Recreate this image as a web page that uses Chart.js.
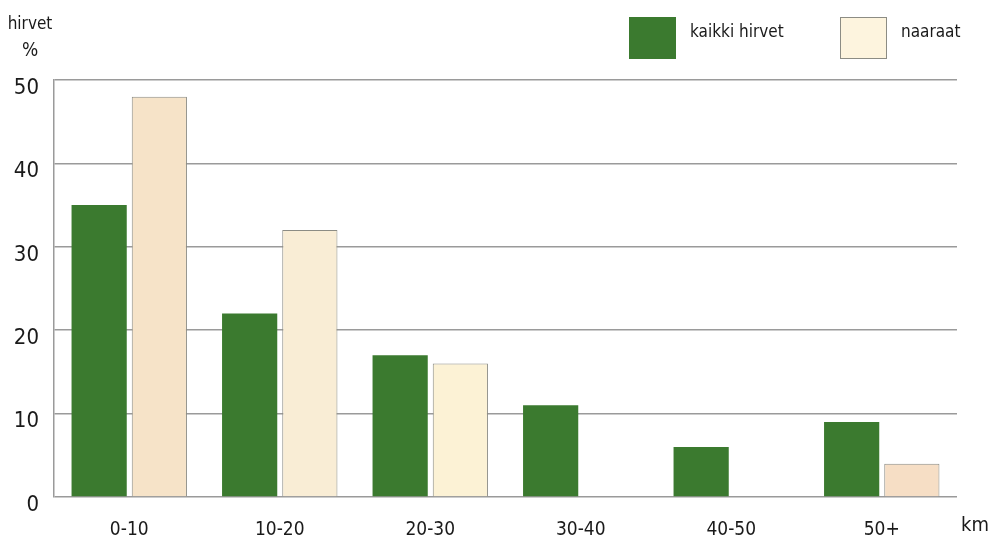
<!DOCTYPE html>
<html>
<head>
<meta charset="utf-8">
<script src="https://cdn.jsdelivr.net/npm/chart.js@4.4.0/dist/chart.umd.min.js"></script>
<style>
  html, body { margin: 0; padding: 0; background: #fff; }
  #wrap { width: 988px; height: 536px; }
</style>
</head>
<body>
<div id="wrap"><canvas id="hirvi-chart" width="988" height="536"></canvas></div>
<script>
var categories = ["0-10", "10-20", "20-30", "30-40", "40-50", "50+"];
var kaikkiHirvet = [35, 22, 17, 11, 6, 9];
var naaraat = [48, 32, 16, 0, 0, 4];
var yTicks = [0, 10, 20, 30, 40, 50];

var FONT = "'DejaVu Sans Condensed', 'Liberation Sans Narrow', sans-serif";
var GREEN = "#3b7a2f";
var CREAM = ["#f6e3c8", "#f9edd5", "#fcf2d5", "#fcf2d5", "#fcf2d5", "#f6dec5"];

// legend + axis captions drawn by hand
var extras = {
  id: "extras",
  afterDraw: function (chart) {
    var c = chart.ctx;
    c.save();
    c.fillStyle = "#1a1a1a";
    c.font = "17px " + FONT;
    c.textAlign = "center";
    c.textBaseline = "alphabetic";
    c.fillText("hirvet", 30, 29);
    c.font = "19px " + FONT;
    c.fillText("%", 30, 56);
    c.font = "20px " + FONT;
    c.textAlign = "left";
    c.fillText("km", 961, 531);

    var ds = chart.data.datasets;
    var items = [
      { x: 629, label: ds[0].label, fill: GREEN, stroke: null },
      { x: 840, label: ds[1].label, fill: "#fdf4de", stroke: "#8c8c84" }
    ];
    c.font = "17px " + FONT;
    items.forEach(function (it) {
      c.fillStyle = it.fill;
      c.fillRect(it.x, 17, 47, 42);
      if (it.stroke) {
        c.strokeStyle = it.stroke;
        c.lineWidth = 1;
        c.strokeRect(it.x + 0.5, 17.5, 46, 41);
      }
      c.fillStyle = "#1a1a1a";
      c.fillText(it.label, it.x + 61, 37);
    });
    c.restore();
  }
};

var ctx = document.getElementById("hirvi-chart").getContext("2d");
var myChart = new Chart(ctx, {
  type: "bar",
  data: {
    labels: categories,
    datasets: [
      {
        label: "kaikki hirvet",
        data: kaikkiHirvet,
        backgroundColor: GREEN,
        borderWidth: 0,
        categoryPercentage: 0.8,
        barPercentage: 0.917,
      },
      {
        label: "naaraat",
        data: naaraat,
        backgroundColor: CREAM,
        borderColor: "#8c8c84",
        borderWidth: 1,
        categoryPercentage: 0.8,
        barPercentage: 0.917,
      }
    ]
  },
  options: {
    responsive: false,
    animation: false,
    layout: {
      padding: { top: 80, right: 31, bottom: 0, left: 0 }
    },
    plugins: {
      legend: { display: false },
      title: { display: false },
      tooltip: { enabled: false }
    },
    scales: {
      x: {
        grid: { display: false },
        border: { display: false },
        ticks: {
          color: "#1a1a1a",
          font: { family: FONT, size: 19 },
          padding: 14,
          maxRotation: 0
        },
        afterFit: function (scale) { scale.height = 39; }
      },
      y: {
        min: 0,
        max: 50,
        afterBuildTicks: function (scale) {
          scale.ticks = yTicks.map(function (v) { return { value: v }; });
        },
        grid: {
          color: "#9a9a9a",
          lineWidth: 1.5,
          drawTicks: false
        },
        border: { display: true, color: "#9a9a9a", width: 1.5 },
        ticks: {
          color: "#1a1a1a",
          font: { family: FONT, size: 22 },
          padding: 15,
          labelOffset: 8
        },
        afterFit: function (scale) { scale.width = 54; }
      }
    }
  },
  plugins: [extras]
});
</script>
</body>
</html>
